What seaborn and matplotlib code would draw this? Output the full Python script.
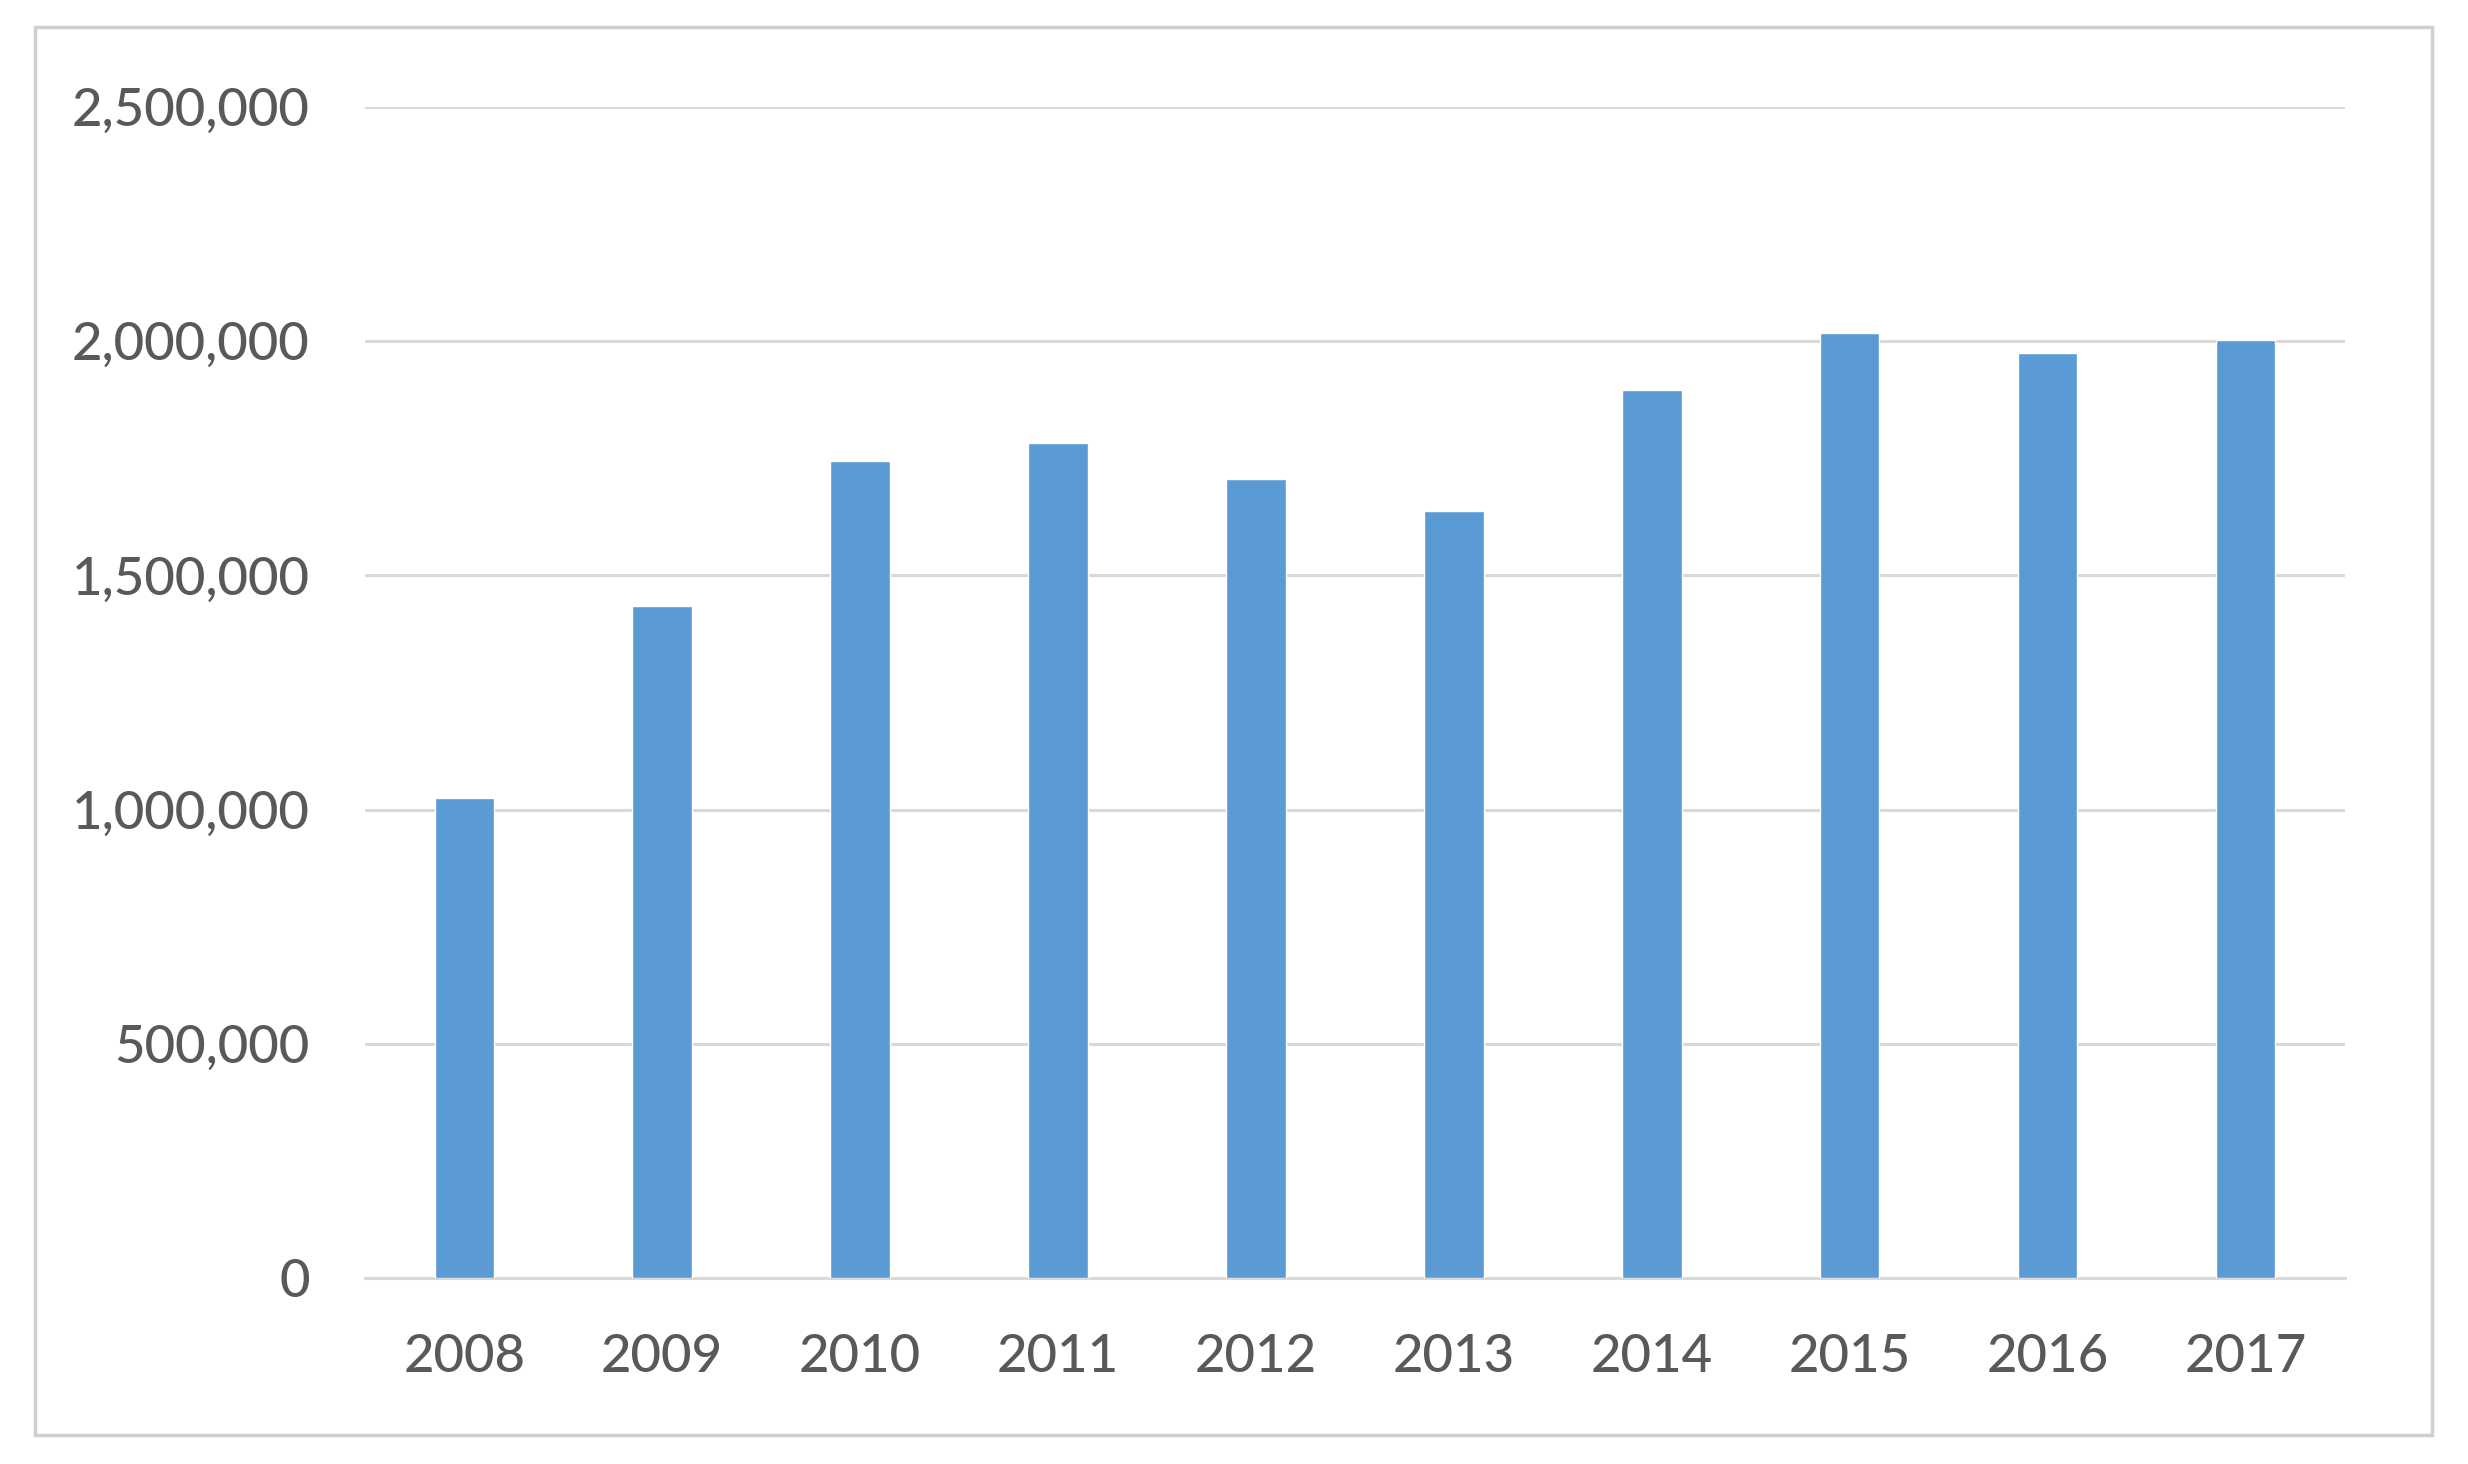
import matplotlib
matplotlib.use("Agg")
import matplotlib.pyplot as plt
import matplotlib.ticker as mticker
from matplotlib.patches import Rectangle
import pandas as pd
import seaborn as sns

# values
years = ["2008", "2009", "2010", "2011", "2012", "2013", "2014", "2015", "2016", "2017"]
values = [1025000, 1435000, 1745000, 1782000, 1705000, 1637000, 1895000, 2018000, 1975000, 2003000]
y_ticks = [0, 500000, 1000000, 1500000, 2000000, 2500000]

df = pd.DataFrame({"year": years, "value": values})

sns.set_theme(style="white")
plt.rcParams["font.family"] = ["Lato", "DejaVu Sans"]

fig = plt.figure(figsize=(24.68, 14.64), dpi=100)
ax = fig.add_axes([0.148, 0.127, 0.802, 0.800])

sns.barplot(data=df, x="year", y="value", color="#5B9BD5", width=0.3,
            saturation=1, ax=ax, zorder=3)

ax.set_ylim(0, 2500000)
ax.set_xlim(-0.5, len(years) - 0.5)
ax.set_yticks(y_ticks)
ax.yaxis.set_major_formatter(mticker.FuncFormatter(lambda v, p: f"{int(v):,}"))
ax.grid(axis="y", color="#D9D9D9", linewidth=2.2, zorder=0)
ax.set_axisbelow(True)
for side in ["top", "right", "left"]:
    ax.spines[side].set_visible(False)
ax.spines["bottom"].set_color("#D9D9D9")
ax.spines["bottom"].set_linewidth(2.2)
ax.set_xlabel("")
ax.set_ylabel("")
ax.tick_params(axis="both", length=0, labelsize=38, colors="#595959")
ax.tick_params(axis="y", pad=40)
ax.tick_params(axis="x", pad=40)
for lab in ax.get_xticklabels() + ax.get_yticklabels():
    lab.set_fontweight("medium")

# light frame around the whole chart
fig.patches.append(Rectangle((0.0142, 0.0198), 0.9712, 0.9618, transform=fig.transFigure,
                             fill=False, edgecolor="#D0D0D0", linewidth=2.5))

fig.savefig("out.png", dpi=100, facecolor="white")
